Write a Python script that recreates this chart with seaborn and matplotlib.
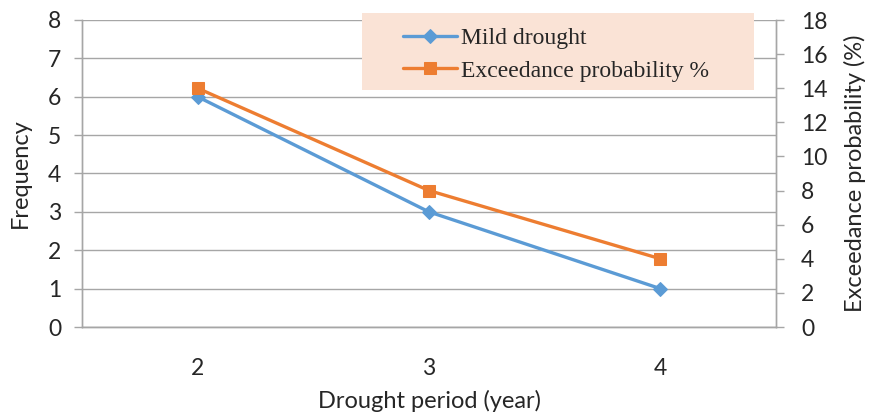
import numpy as np
import pandas as pd
import matplotlib
matplotlib.use("Agg")
import matplotlib.pyplot as plt
import seaborn as sns
from matplotlib.patches import Rectangle

periods = ["2", "3", "4"]
mild_drought = [6, 3, 1]
exceedance = [14, 8, 4]

sns.set_theme(style="white")
plt.rcParams['font.family'] = ['Lato', 'DejaVu Sans']

blue = "#5B9BD5"
orange = "#ED7D31"
grid_c = "#A6A6A6"

df = pd.DataFrame({"pos": np.arange(len(periods)), "mild": mild_drought, "exc": exceedance})

fig = plt.figure(figsize=(8.69, 4.15), dpi=100)
ax = fig.add_axes([82/869, 1-327/415, 694/869, 307/415])
ax2 = ax.twinx()

sns.lineplot(data=df, x="pos", y="mild", ax=ax, color=blue, lw=2.4, marker="D",
             markersize=7, markeredgecolor=blue, label="Mild drought", legend=False)
sns.lineplot(data=df, x="pos", y="exc", ax=ax2, color=orange, lw=2.4, marker="s",
             markersize=9, markeredgecolor=orange, label="Exceedance probability %", legend=False)

ax.set_xlim(-0.5, len(periods)-0.5)
ax.set_ylim(0, 8)
ax2.set_ylim(0, 18)
ax.set_yticks(range(0, 9))
ax2.set_yticks(range(0, 19, 2))
ax.set_xticks(np.arange(len(periods)))
ax.set_xticklabels(periods)
ax.set_xticks(np.arange(len(periods)-1) + 0.5, minor=True)
ax.tick_params(axis="x", which="major", length=0, pad=22, labelsize=16.5)
ax.tick_params(axis="x", which="minor", length=6, color=grid_c, width=1, direction="out")
ax.tick_params(axis="y", length=6, color=grid_c, width=1, direction="out", labelsize=16.5, pad=9, left=True)
ax2.tick_params(axis="y", length=6, color=grid_c, width=1, direction="out", labelsize=16.5, pad=12, right=True)

ax.grid(axis="y", color=grid_c, lw=1)
ax.set_axisbelow(True)
for a in (ax, ax2):
    a.spines["top"].set_visible(False)
    for s in ["left", "right", "bottom"]:
        a.spines[s].set_color(grid_c)
        a.spines[s].set_linewidth(1)

ax.set_xlabel("Drought period (year)", fontsize=17, labelpad=8)
ax.set_ylabel("Frequency", fontsize=17, labelpad=12)
ax2.set_ylabel("Exceedance probability (%)", fontsize=17, labelpad=12)

# legend background
fig.patches.append(Rectangle((362/869, 1-90/415), 392/869, 77/415, transform=fig.transFigure,
                             facecolor="#FAE3D6", edgecolor="none", zorder=5))
h1, l1 = ax.get_legend_handles_labels()
h2, l2 = ax2.get_legend_handles_labels()
leg = fig.legend(h1 + h2, l1 + l2, loc="upper left", bbox_to_anchor=(384/869, 1-9/415),
                 frameon=False, prop={"family": "Liberation Serif", "size": 17},
                 handlelength=2.3, handletextpad=0.15, labelspacing=0.45, borderpad=0.3)
leg.set_zorder(6)

fig.savefig("out.png", dpi=100)
